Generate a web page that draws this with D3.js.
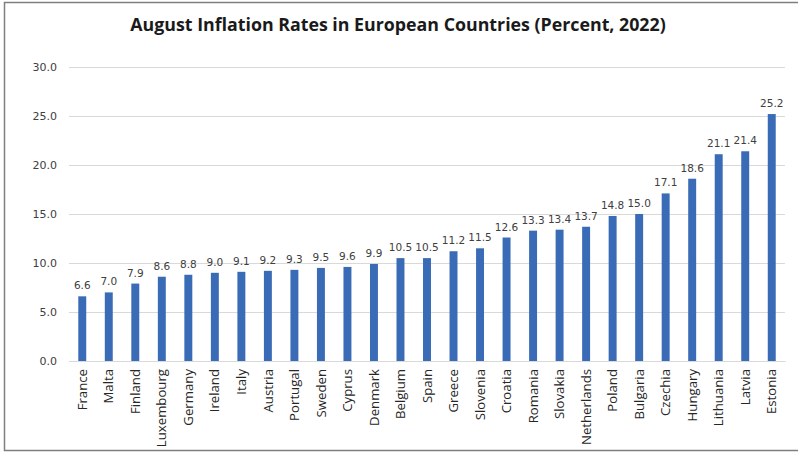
<!DOCTYPE html>
<head>
  <meta charset="utf-8">
  <script src="https://d3js.org/d3.v7.min.js"></script>
  <style>
    body { margin:0; background:#fff; }
  </style>
</head>
<body>
<script>
  // données
  var countries = ["France","Malta","Finland","Luxembourg","Germany","Ireland","Italy","Austria","Portugal","Sweden","Cyprus","Denmark","Belgium","Spain","Greece","Slovenia","Croatia","Romania","Slovakia","Netherlands","Poland","Bulgaria","Czechia","Hungary","Lithuania","Latvia","Estonia"];
  var rates = [6.6,7.0,7.9,8.6,8.8,9.0,9.1,9.2,9.3,9.5,9.6,9.9,10.5,10.5,11.2,11.5,12.6,13.3,13.4,13.7,14.8,15.0,17.1,18.6,21.1,21.4,25.2];
  var yTicks = [0,5,10,15,20,25,30];
  var title = "August Inflation Rates in European Countries (Percent, 2022)";

  var W = 798, H = 453;
  var margin = {top: 67, right: 13, bottom: 92, left: 69};
  var width = W - margin.left - margin.right,
      height = H - margin.top - margin.bottom;

  var svg = d3.select("body").append("svg")
    .attr("width", W)
    .attr("height", H);

  // cadre
  svg.append("rect")
    .attr("x", 4.5).attr("y", 2.5)
    .attr("width", W + 10).attr("height", 448)
    .attr("fill", "none")
    .attr("stroke", "#7f7f7f")
    .attr("stroke-width", 1.5);

  svg.append("text")
    .attr("x", 398).attr("y", 31)
    .attr("text-anchor", "middle")
    .style("font-family", "'Open Sans', sans-serif")
    .style("font-weight", "bold")
    .style("font-size", "17.8px")
    .style("fill", "#1a1a1a")
    .text(title);

  var g = svg.append("g")
    .attr("transform", "translate(" + margin.left + "," + margin.top + ")");

  var x = d3.scaleBand()
    .domain(countries)
    .range([0, width])
    .paddingInner(0.7)
    .paddingOuter(0.35);

  var y = d3.scaleLinear()
    .domain([0, 30])
    .range([height, 0]);

  // grille
  g.selectAll(".grid")
    .data(yTicks)
    .enter().append("line")
    .attr("x1", 0).attr("x2", width)
    .attr("y1", function(d){ return y(d) + 0.5; })
    .attr("y2", function(d){ return y(d) + 0.5; })
    .attr("stroke", "#d9d9d9")
    .attr("stroke-width", 1);

  var yAxis = d3.axisLeft(y)
    .tickValues(yTicks)
    .tickFormat(d3.format(".1f"))
    .tickSize(0)
    .tickPadding(12);

  g.append("g")
    .call(yAxis)
    .call(function(s){ s.select(".domain").remove(); })
    .selectAll("text")
    .style("font-family", "'DejaVu Sans', Verdana, sans-serif")
    .style("font-size", "11px")
    .style("fill", "#404040");

  g.selectAll(".bar")
    .data(rates)
    .enter().append("rect")
    .attr("class", "bar")
    .attr("x", function(d, i){ return x(countries[i]); })
    .attr("width", x.bandwidth())
    .attr("y", function(d){ return y(d); })
    .attr("height", function(d){ return height - y(d); })
    .attr("fill", "#3a6bb6");

  g.selectAll(".lab")
    .data(rates)
    .enter().append("text")
    .attr("x", function(d, i){ return x(countries[i]) + x.bandwidth() / 2; })
    .attr("y", function(d){ return y(d) - 7; })
    .attr("text-anchor", "middle")
    .style("font-family", "'DejaVu Sans', Verdana, sans-serif")
    .style("font-size", "10.5px")
    .style("fill", "#404040")
    .text(function(d){ return d3.format(".1f")(d); });

  var xAxis = d3.axisBottom(x).tickSize(0).tickPadding(0);

  g.append("g")
    .attr("transform", "translate(0," + height + ")")
    .call(xAxis)
    .call(function(s){ s.select(".domain").attr("stroke", "#d9d9d9"); })
    .selectAll("text")
    .attr("transform", "rotate(-90)")
    .attr("x", -8)
    .attr("y", 0)
    .attr("dy", "0.35em")
    .style("text-anchor", "end")
    .style("font-family", "'Open Sans', sans-serif")
    .style("font-size", "13.2px")
    .style("fill", "#262626");
</script>
</body>
